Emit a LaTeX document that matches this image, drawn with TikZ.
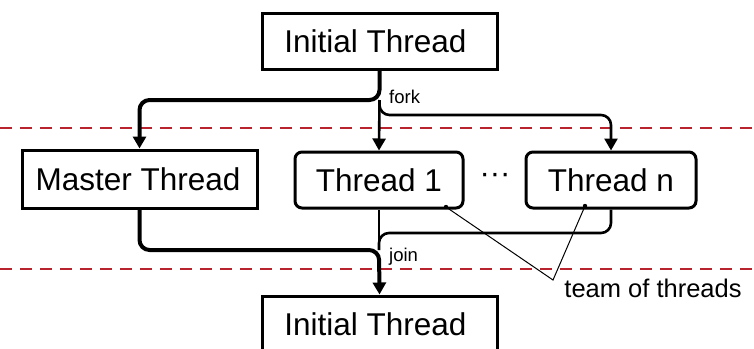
\documentclass[tikz,border=0pt]{standalone}
\usepackage{fontspec}
\setmainfont{Liberation Sans}
\usetikzlibrary{arrows.meta}
\definecolor{sepred}{RGB}{185,35,45}
\tikzset{
  box/.style={draw, line width=3pt, minimum height=56pt, inner sep=0pt,
              font=\fontsize{31.5}{37}\selectfont},
  sqbox/.style={box},
  rbox/.style={box, rounded corners=7pt},
  mainflow/.style={line width=4pt, rounded corners=10pt},
  teamflow/.style={line width=2.6pt, rounded corners=10pt},
  tip/.style={-{Triangle[width=13pt,length=12pt]}},
  sep/.style={sepred, line width=2pt, dash pattern=on 12pt off 8pt},
  smalllabel/.style={font=\fontsize{18.5}{22}\selectfont, anchor=west, inner sep=0pt},
  pointer/.style={line width=1pt},
}
\begin{document}
\begin{tikzpicture}[x=1pt, y=-1pt]
\useasboundingbox (0,0) rectangle (754,348);
\clip (0,0) rectangle (754,348);

% separators between the phases
\draw[sep] (0,128) -- (754,128);
\draw[sep] (0,269) -- (754,269);

% threads
\node[sqbox, minimum width=235pt] (init) at (379.5,41) {Initial Thread\hspace*{8pt}};
\node[sqbox, minimum width=235pt, minimum height=58pt] (master) at (139.5,179) {Master Thread\hspace*{3pt}};
\node[rbox, minimum width=168pt] (t1) at (379,180) {Thread 1};
\node[rbox, minimum width=170pt] (tn) at (611,180) {Thread n};
\node[font=\fontsize{31}{37}\selectfont, inner sep=0pt] (dots) at (495,178) {···};
\node[sqbox, minimum width=235pt] (final) at (379.5,324) {Initial Thread\hspace*{8pt}};

% fork
\coordinate (split) at (init.south |- 0,100);
\coordinate (split2) at (init.south |- 0,115);
\draw[mainflow, tip] (init.south) -- (split) -| (master.north);
\draw[teamflow, tip] (split) -- (t1.north);
\draw[teamflow, tip] (split) -- (split2) -| (tn.north);
\node[smalllabel] (forklbl) at (389,97) {fork};

% join
\coordinate (merge) at (t1.south |- 0,250);
\coordinate (merge2) at (t1.south |- 0,233);
\draw[teamflow] (t1.south) -- (merge);
\draw[teamflow] (tn.south) |- (merge2) -- (merge);
\draw[mainflow, tip] (master.south) |- (merge) -- (final.north);
\node[smalllabel] (joinlbl) at (389,257) {join};

% team annotation
\node[font=\fontsize{25.5}{30}\selectfont, inner sep=0pt] (team) at (653,288) {team of threads};
\coordinate (meet) at (553,280);
\coordinate (p1) at (446,207);
\coordinate (pn) at (585,206);
\draw[pointer] (p1) -- (meet) -- (pn);
\fill (p1) circle (2.2pt);
\fill (pn) circle (2.2pt);
\end{tikzpicture}
\end{document}
